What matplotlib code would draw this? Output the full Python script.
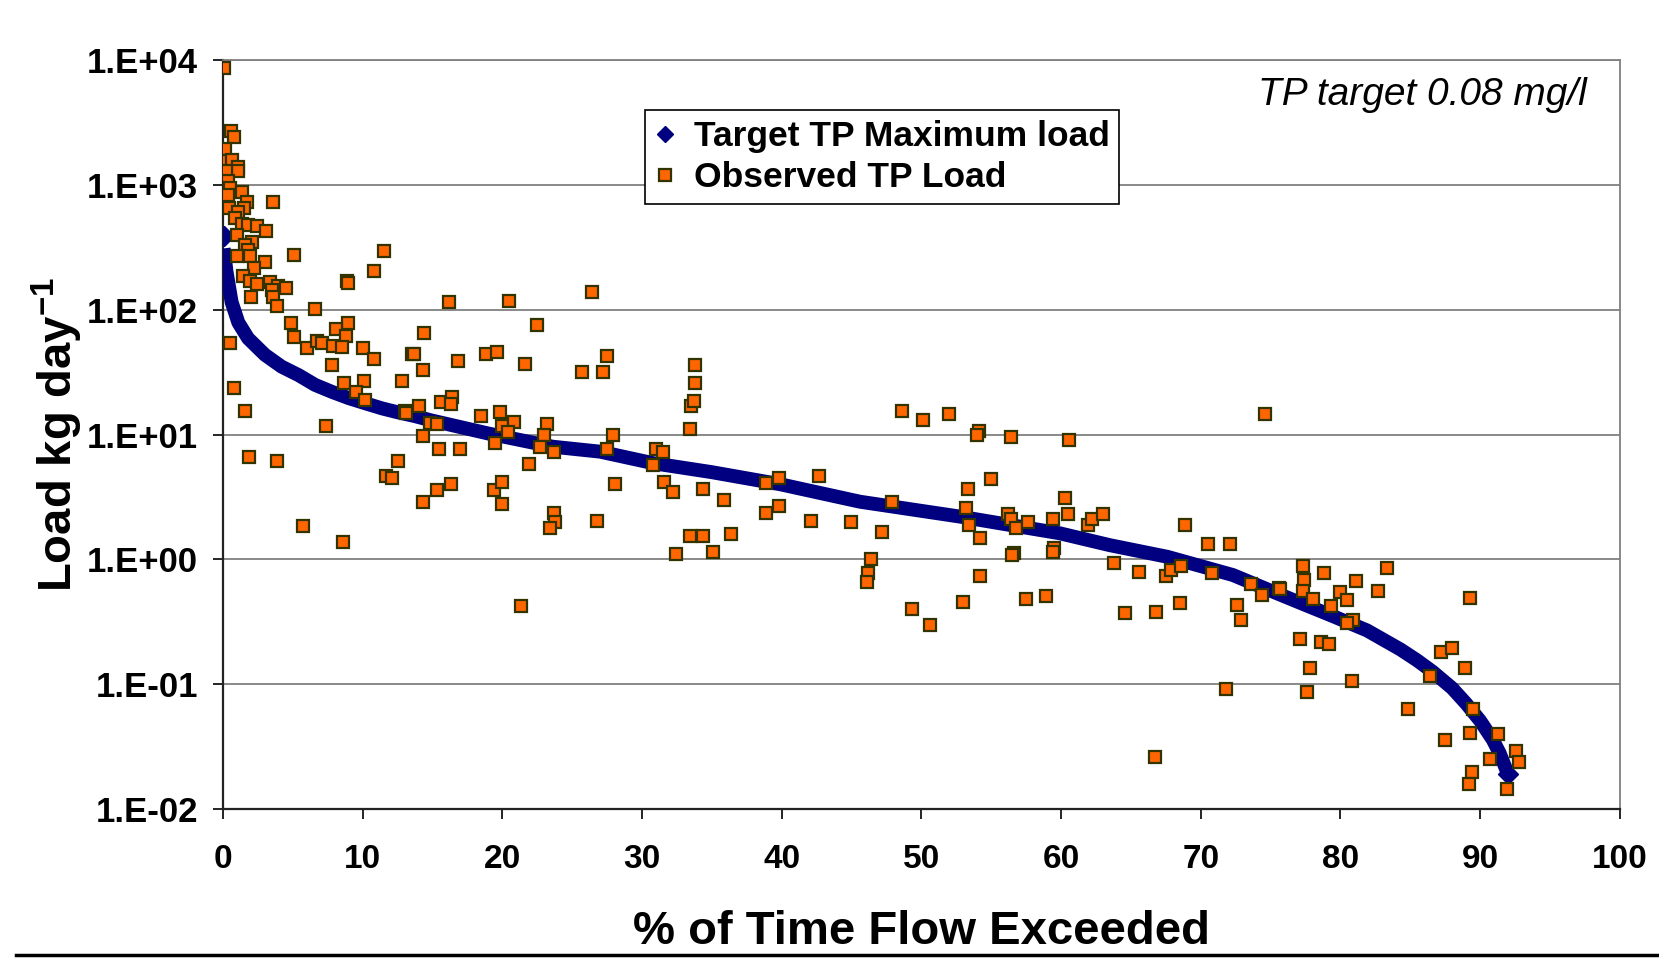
import matplotlib
matplotlib.use('Agg')
import matplotlib.pyplot as plt
from matplotlib.lines import Line2D
from matplotlib.ticker import NullLocator

plt.rcParams['font.family'] = ['Liberation Sans', 'DejaVu Sans']
plt.rcParams['mathtext.fontset'] = 'custom'
plt.rcParams['mathtext.rm'] = 'Liberation Sans:bold'
plt.rcParams['mathtext.bf'] = 'Liberation Sans:bold'
plt.rcParams['mathtext.default'] = 'bf'

# target curve (flow duration x 0.08 mg/l)
target_x = [0.05, 0.05, 0.26, 0.62, 1.1, 1.8, 3.0, 4.2, 5.4, 6.6, 7.8, 9.0, 10.2, 11.4,
            12.5, 13.7, 14.9, 19.0, 23.6, 27.0, 30.8, 35.0, 39.9, 45.6, 52.8, 59.9,
            63.5, 67.6, 72.3, 74.7, 77.1, 79.5, 81.9, 84.3, 85.5, 86.6, 88.0, 89.0, 90.0,
            90.9, 91.4, 92.0]
target_y = [390, 310, 200, 115, 79, 59, 43.6, 35, 30, 25, 22, 19.6, 17.8, 16.2,
            15.1, 14.1, 13.0, 10.2, 8.0, 7.3, 5.9, 5.0, 4.0, 2.9, 2.2, 1.62,
            1.3, 1.05, 0.75, 0.58, 0.45, 0.35, 0.27, 0.19, 0.155, 0.126, 0.093, 0.070, 0.051,
            0.036, 0.028, 0.019]

# observed loads
obs_x = [0.1, 0.57, 0.79, 0.14, 0.1, 0.67, 1.1, 1.05, 0.2, 0.38, 0.5, 0.33, 1.38, 1.74, 3.6,
         0.43, 1.53, 1.1, 0.86, 1.34, 1.81, 2.46, 3.05, 0.98, 2.05, 1.57, 1.81, 5.08, 0.98,
         1.93, 3.0, 2.24, 1.45, 1.93, 2.41, 3.37, 3.96, 4.5, 3.48, 3.6, 1.98, 3.89, 11.5,
         10.8, 8.9, 8.97, 6.59, 4.87, 8.93, 8.07, 8.83, 5.06, 14.4, 0.5, 6.0, 6.7, 7.1, 7.9,
         8.5, 10.0, 10.8, 13.5, 13.7, 14.3, 7.8, 12.8, 8.7, 10.1, 9.5, 10.2, 0.81, 1.6, 7.4,
         13.0, 13.1, 14.06, 14.8, 14.3, 1.86, 3.9, 12.5, 11.65, 12.1, 14.3, 5.75, 8.6,
         16.2, 20.5, 26.4, 22.5, 18.8, 19.6, 16.8, 21.6, 27.5, 25.7, 27.2, 33.8, 33.8, 33.5,
         33.7, 33.4, 15.6, 16.4, 16.3, 18.5, 19.8, 20.0, 20.8, 20.4, 15.3, 23.2, 23.0, 22.7,
         23.7, 19.5, 27.9, 27.5, 31.0, 31.5, 30.8, 15.5, 17.0, 21.9, 15.3, 16.3, 19.4, 20.0,
         20.0, 28.1, 31.6, 32.2, 34.4, 35.9, 38.9, 39.8, 38.9, 39.8, 23.7, 23.8, 23.4, 26.8,
         33.4, 34.4, 36.4, 32.4, 35.1, 21.35,
         48.6, 50.1, 52.0, 54.1, 54.0, 56.4, 60.6, 42.7, 42.1, 44.96, 47.2, 47.9, 53.3, 55.0,
         53.2, 53.4, 54.2, 56.2, 56.4, 56.8, 57.6, 59.4, 60.3, 60.5, 61.9, 62.2, 63.0, 59.5,
         59.4, 56.6, 56.5, 63.8, 46.4, 46.2, 46.1, 54.2, 49.3, 50.6, 53.0, 57.5, 58.9,
         74.6, 68.9, 70.5, 72.1, 65.6, 67.5, 67.9, 68.6, 70.8, 73.6, 74.4, 75.6, 75.7, 77.3,
         77.4, 77.3, 78.0, 78.8, 80.0, 81.1, 80.5, 79.3, 82.7, 83.3, 80.9, 80.5, 64.6, 66.8,
         68.5, 72.6, 72.9, 77.1, 78.6, 79.2, 77.8, 80.8, 86.4, 71.8, 77.6, 84.8, 66.7,
         89.24, 87.2, 88.0, 88.9, 89.5, 87.5, 89.3, 91.3, 92.6, 92.8, 90.7, 89.4, 89.2, 91.9]
obs_y = [8600, 2700, 2400, 1950, 1550, 1580, 1400, 1290, 1290, 1070, 950, 830, 880, 730, 730,
         650, 650, 610, 540, 490, 480, 465, 430, 400, 350, 330, 300, 275, 270,
         270, 240, 215, 188, 170, 162, 166, 155, 150, 145, 126, 126, 108, 295,
         205, 170, 163, 102, 79, 79, 70, 62, 60, 65, 54, 49, 56, 54, 51,
         50, 49, 40, 44, 44, 33, 36, 27, 26, 27, 22, 19, 23.5, 15.5, 11.8,
         15.5, 15.0, 16.8, 12.3, 9.8, 6.6, 6.2, 6.1, 4.7, 4.5, 2.9, 1.86, 1.38,
         115, 118, 139, 76, 44.5, 46, 39, 37, 43, 32, 32, 36, 26, 17,
         18.5, 11, 18.2, 20, 17.5, 14.1, 15.1, 11.8, 12.6, 10.5, 12.2, 12.2, 10, 8.0,
         7.2, 8.5, 10, 7.7, 7.7, 7.2, 5.7, 7.7, 7.6, 5.8, 3.6, 4.0, 3.6, 4.2,
         2.8, 4.0, 4.2, 3.5, 3.7, 3.0, 4.1, 4.5, 2.35, 2.7, 2.35, 2.0, 1.8, 2.05,
         1.55, 1.55, 1.6, 1.1, 1.15, 0.42,
         15.5, 13.1, 14.6, 10.7, 9.9, 9.6, 9.0, 4.7, 2.05, 2.0, 1.65, 2.9, 3.7, 4.4,
         2.6, 1.87, 1.48, 2.3, 2.1, 1.78, 2.0, 2.1, 3.1, 2.3, 1.87, 2.1, 2.3, 1.23,
         1.14, 1.12, 1.08, 0.94, 1.0, 0.78, 0.66, 0.74, 0.40, 0.30, 0.46, 0.48, 0.51,
         14.6, 1.9, 1.34, 1.34, 0.80, 0.73, 0.83, 0.89, 0.78, 0.63, 0.52, 0.59, 0.58, 0.89,
         0.68, 0.56, 0.48, 0.78, 0.55, 0.67, 0.47, 0.42, 0.56, 0.86, 0.33, 0.31, 0.37, 0.38,
         0.45, 0.43, 0.33, 0.23, 0.22, 0.21, 0.135, 0.107, 0.117, 0.091, 0.087, 0.063, 0.026,
         0.49, 0.18, 0.195, 0.134, 0.063, 0.036, 0.041, 0.040, 0.029, 0.024, 0.025, 0.020, 0.016, 0.0145]

x_ticks = [0, 10, 20, 30, 40, 50, 60, 70, 80, 90, 100]
y_ticks = [1e-2, 1e-1, 1e0, 1e1, 1e2, 1e3, 1e4]
y_tick_labels = ['1.E-02', '1.E-01', '1.E+00', '1.E+01', '1.E+02', '1.E+03', '1.E+04']


def make_chart():
    fig = plt.figure(figsize=(16.59, 9.69), dpi=100)
    ax = fig.add_axes([0.1344, 0.165, 0.842, 0.773])

    # thick band like the packed diamonds; first point is a lone diamond above it
    ax.plot(target_x[1:], target_y[1:], color='#000080', lw=10, marker='D', ms=10,
            markevery=[len(target_x) - 2], solid_joinstyle='round',
            solid_capstyle='butt', zorder=3)
    ax.plot(target_x[:1], target_y[:1], ls='none', color='#000080', marker='D', ms=10,
            zorder=3)
    ax.plot([], [], ls='none', color='#000080', marker='D', label='Target TP Maximum load')
    ax.plot(obs_x, obs_y, ls='none', marker='s', ms=8.5, mfc='#FF6600',
            mec='#333300', mew=1.6, zorder=4, label='Observed TP Load')

    ax.set_yscale('log')
    ax.set_xlim(0, 100)
    ax.set_ylim(1e-2, 1e4)
    ax.set_xticks(x_ticks)
    ax.set_xticklabels([str(v) for v in x_ticks], fontsize=24, fontweight='bold')
    ax.set_yticks(y_ticks)
    ax.set_yticklabels(y_tick_labels, fontsize=25, fontweight='bold')
    ax.yaxis.set_minor_locator(NullLocator())
    ax.tick_params(axis='x', direction='out', length=7, width=1.2, pad=18)
    ax.tick_params(axis='y', direction='out', length=7, width=1.2, pad=11)

    ax.yaxis.grid(True, color='#808080', lw=1.3)
    ax.set_axisbelow(True)
    for s in ['left', 'bottom']:
        ax.spines[s].set_color('#222222')
        ax.spines[s].set_linewidth(1.6)
    for s in ['top', 'right']:
        ax.spines[s].set_color('#808080')
        ax.spines[s].set_linewidth(1.3)

    ax.set_xlabel('% of Time Flow Exceeded', fontsize=34, fontweight='bold', labelpad=25)
    ax.set_ylabel('Load kg day$^{-1}$', fontsize=34, fontweight='bold', labelpad=1)

    ax.text(0.976, 0.953, 'TP target 0.08 mg/l', transform=ax.transAxes,
            ha='right', va='center', fontsize=28, fontstyle='italic')

    leg = ax.legend(loc='upper left', bbox_to_anchor=(0.302, 0.933),
                    prop={'weight': 'bold', 'size': 25.5}, frameon=True, fancybox=False,
                    edgecolor='black', framealpha=1, borderpad=0.28, handlelength=0.6,
                    handletextpad=0.5, labelspacing=0.22, borderaxespad=0)
    leg.get_frame().set_linewidth(1.2)
    leg.legend_handles[0].set_markersize(8)
    leg.legend_handles[1].set_markersize(8)

    fig.add_artist(Line2D([0.0096, 1.0], [0.0144, 0.0144], color='black', lw=2.5))

    fig.savefig('out.png', dpi=100)


if __name__ == '__main__':
    make_chart()
